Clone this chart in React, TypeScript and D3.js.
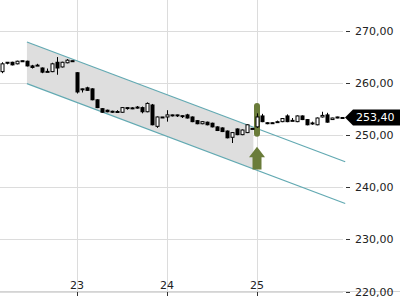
import React from "react";
import * as d3 from "d3";

const opens = [
  262.2, 264.0, 264.0, 263.7, 264.3, 264.2, 263.3, 263.4, 262.9, 262.2, 262.2, 264.0, 263.1, 263.9, 264.3,
  262.0, 258.9, 259.1, 258.9, 256.8, 255.1, 254.8, 254.6, 254.5, 254.4, 255.3, 255.2, 255.4, 255.3, 254.5, 255.8, 251.7, 253.5,
  253.5, 253.9, 253.9, 253.75, 253.9, 253.5, 252.8, 252.2, 252.5, 252.3, 251.6, 251.4, 250.8, 249.6, 251.2, 250.1, 250.5, 251.3,
  251.6, 253.7, 252.4, 252.4, 252.55, 252.6, 253.7, 252.8, 252.6, 253.7, 253.0, 252.3, 252.0, 253.5, 253.9, 253.0, 253.5, 253.4,
];
const highs = [
  264.0, 264.05, 264.1, 264.3, 264.3, 264.3, 263.5, 263.7, 263.0, 262.8, 263.9, 265.0, 264.1, 264.6, 264.3,
  262.1, 258.95, 259.3, 259.0, 256.9, 255.2, 254.9, 254.7, 254.8, 255.4, 255.35, 255.4, 255.6, 255.5, 256.3, 256.0, 253.6, 253.5,
  254.8, 253.95, 253.95, 253.8, 254.1, 253.6, 252.9, 252.7, 252.6, 252.4, 251.7, 251.5, 250.9, 250.6, 251.3, 251.1, 252.1, 251.3,
  254.2, 254.1, 252.5, 252.45, 252.8, 253.3, 254.0, 253.3, 253.8, 253.8, 253.1, 252.6, 253.4, 254.5, 254.3, 253.35, 253.55, 253.4,
];
const lows = [
  261.9, 263.6, 263.4, 263.6, 264.1, 263.2, 262.8, 263.3, 261.9, 262.15, 262.1, 261.6, 263.0, 263.8, 264.2,
  258.0, 258.2, 258.5, 256.7, 255.2, 254.3, 254.4, 254.3, 254.3, 254.3, 254.9, 255.0, 255.1, 254.2, 254.4, 251.9, 251.4, 253.45,
  252.6, 253.6, 253.5, 253.3, 253.2, 252.5, 252.1, 252.1, 251.9, 251.5, 250.8, 250.6, 249.4, 248.5, 250.0, 250.0, 250.4, 251.2,
  251.4, 252.5, 252.1, 252.3, 252.4, 252.5, 252.5, 252.8, 252.5, 252.9, 251.9, 252.0, 251.9, 253.4, 252.4, 252.95, 253.25, 253.4,
];
const closes = [
  263.7, 263.95, 263.5, 264.2, 264.1, 263.3, 263.0, 263.45, 262.1, 262.25, 263.7, 262.9, 264.0, 264.4, 264.2,
  258.3, 258.85, 258.6, 256.8, 255.3, 254.4, 254.5, 254.4, 254.55, 255.3, 255.25, 255.25, 255.2, 254.5, 256.1, 252.0, 253.5, 253.45,
  253.9, 253.85, 253.85, 253.7, 253.3, 252.6, 252.2, 252.6, 252.0, 251.6, 250.9, 250.7, 249.5, 250.5, 250.1, 251.0, 252.0, 251.25,
  253.5, 252.6, 252.3, 252.35, 252.6, 253.2, 252.6, 252.85, 253.7, 253.0, 252.0, 252.35, 253.3, 253.8, 252.5, 253.3, 253.3, 253.4,
];

const firstDay = 22;
const firstSlot = 3;
const slotsPerDay = 18;

const yTicks = [220, 230, 240, 250, 260, 270];
const yTickLabels = ["220,00", "230,00", "240,00", "250,00", "260,00", "270,00"];
const xTicks = [23, 24, 25];
const xTickLabels = ["23", "24", "25"];

const channelTimes = [22.444, 25.98];
const channelUpper = [267.9, 244.9];
const channelLower = [259.9, 236.9];
const channelFillEnd = 24.96;

const markerTime = 25;
const markerBar = [256.2, 249.7];
const markerArrow = [247.8, 243.4];

const lastPrice = 253.4;
const lastPriceLabel = "253,40";

export default function App() {
  const W = 400;
  const H = 300;
  const x = d3.scaleLinear().domain([22, 26]).range([-13, 347]);
  const y = d3.scaleLinear().domain([220, 270]).range([291.5, 31]);
  const gridRight = 343;
  const font = "DejaVu Sans, sans-serif";

  const candles = opens.map((o, i) => ({
    t: firstDay + (firstSlot + i) / slotsPerDay,
    o,
    h: highs[i],
    l: lows[i],
    c: closes[i],
  }));

  const lineAt = (vals: number[], t: number) =>
    vals[0] + ((vals[1] - vals[0]) * (t - channelTimes[0])) / (channelTimes[1] - channelTimes[0]);

  const fillPts: [number, number][] = [
    [x(channelTimes[0]), y(channelUpper[0])],
    [x(channelFillEnd), y(lineAt(channelUpper, channelFillEnd))],
    [x(channelFillEnd), y(lineAt(channelLower, channelFillEnd))],
    [x(channelTimes[0]), y(channelLower[0])],
  ];
  const line = d3.line();

  const mx = x(markerTime);
  const aTop = y(markerArrow[0]);
  const aBot = y(markerArrow[1]);
  const headBase = aTop + 10.5;
  const py = y(lastPrice);

  return (
    <div style={{ position: "fixed", left: 0, top: 0 }}>
      <svg width={W} height={H} style={{ display: "block", background: "#fff" }}>
        {/* grid */}
        {yTicks.map((v) => (
          <line key={"gy" + v} x1={0} x2={gridRight} y1={Math.round(y(v)) + 0.5} y2={Math.round(y(v)) + 0.5} stroke="#dcdcdc" />
        ))}
        {xTicks.map((t) => (
          <line key={"gx" + t} x1={Math.round(x(t)) + 0.5} x2={Math.round(x(t)) + 0.5} y1={0} y2={291} stroke="#dcdcdc" />
        ))}
        <line x1={0} x2={W} y1={291.5} y2={291.5} stroke="#d4d4d4" />

        {/* channel */}
        <path d={line(fillPts) || ""} fill="#dedede" />
        <line
          x1={x(channelTimes[0])} y1={y(channelUpper[0])}
          x2={x(channelTimes[1])} y2={y(channelUpper[1])}
          stroke="#62a9b2" strokeWidth={1.2}
        />
        <line
          x1={x(channelTimes[0])} y1={y(channelLower[0])}
          x2={x(channelTimes[1])} y2={y(channelLower[1])}
          stroke="#62a9b2" strokeWidth={1.2}
        />

        {/* marker */}
        <rect x={mx - 3} y={y(markerBar[0])} width={6} height={y(markerBar[1]) - y(markerBar[0])} rx={3} fill="#6a7c3a" />
        <path
          d={`M${mx},${aTop} L${mx + 8},${headBase} L${mx + 4.5},${headBase} L${mx + 4.5},${aBot} L${mx - 4.5},${aBot} L${mx - 4.5},${headBase} L${mx - 8},${headBase} Z`}
          fill="#6a7c3a"
        />

        {/* candles */}
        {candles.map((d, i) => {
          const cx = Math.round(x(d.t)) + 0.5;
          const up = d.c > d.o;
          const top = y(Math.max(d.o, d.c));
          const bot = y(Math.min(d.o, d.c));
          const bh = Math.max(1, bot - top);
          return (
            <g key={i}>
              <line x1={cx} x2={cx} y1={y(d.h)} y2={y(d.l)} stroke="#000" strokeWidth={1} />
              {up ? (
                <rect x={cx - 1.5} y={top} width={3} height={bh} fill="#fff" stroke="#000" strokeWidth={1} />
              ) : (
                <rect x={cx - 2} y={top - 0.5} width={4} height={bh + 1} fill="#000" />
              )}
            </g>
          );
        })}

        {/* y axis */}
        {yTicks.map((v, i) => (
          <g key={"yt" + v}>
            <line x1={346} x2={350} y1={Math.round(y(v)) + 0.5} y2={Math.round(y(v)) + 0.5} stroke="#333" />
            <text x={355} y={y(v) + 4} fontSize={11} fontFamily={font} fill="#222">
              {yTickLabels[i]}
            </text>
          </g>
        ))}
        {/* x axis */}
        {xTicks.map((t, i) => (
          <g key={"xt" + t}>
            <line x1={Math.round(x(t)) + 0.5} x2={Math.round(x(t)) + 0.5} y1={292} y2={296} stroke="#333" />
            <text x={x(t)} y={289} fontSize={11} fontFamily={font} fill="#222" textAnchor="middle">
              {xTickLabels[i]}
            </text>
          </g>
        ))}

        {/* last price tag */}
        <path d={`M345,${py} L353,${py - 8} L400,${py - 8} L400,${py + 8} L353,${py + 8} Z`} fill="#000" />
        <text x={356} y={py + 4} fontSize={11} fontFamily={font} fill="#fff">
          {lastPriceLabel}
        </text>
      </svg>
    </div>
  );
}
